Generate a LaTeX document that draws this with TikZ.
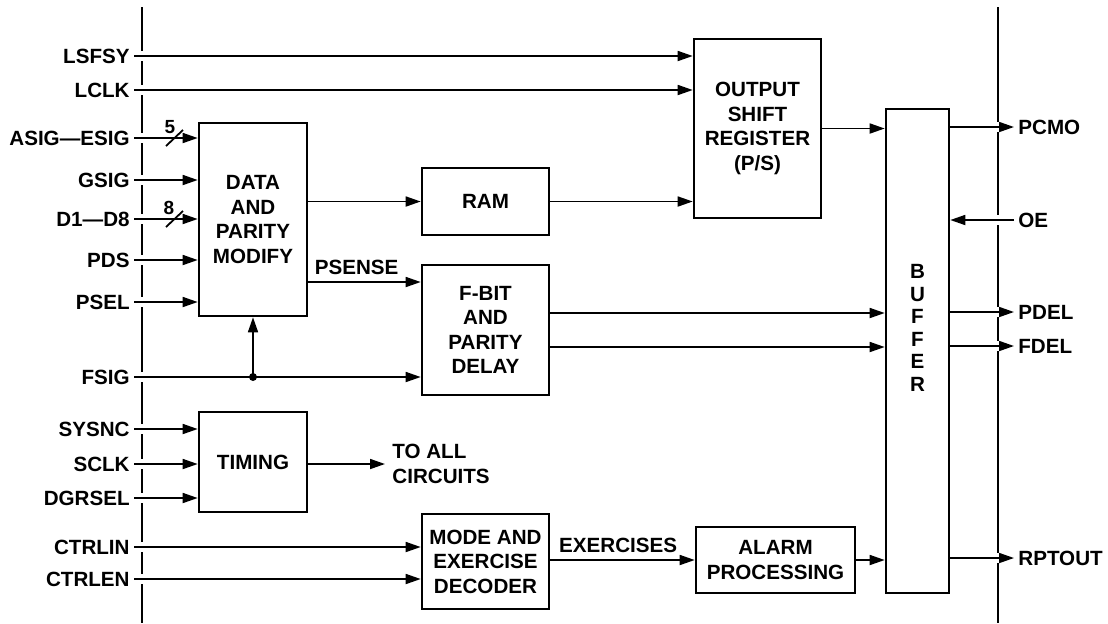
\documentclass[tikz,border=0pt]{standalone}
\usepackage{fontspec}
\setmainfont{Liberation Sans}
\usetikzlibrary{arrows.meta, positioning, calc}
\tikzstyle{block} = [rectangle, draw=black, line width=1.3pt, inner sep=0pt, align=center, font=\fontsize{10.3}{12.2}\selectfont\bfseries]
\tikzstyle{arrow} = [line width=0.85pt, -{Triangle[length=7.5pt,width=5pt]}]
\tikzstyle{wire} = [line width=0.9pt]
\tikzstyle{pin} = [inner sep=2pt, text height=7.3pt, text depth=0pt, font=\fontsize{10.3}{12}\selectfont\bfseries]
\tikzstyle{buswidth} = [inner sep=0pt, font=\fontsize{9.5}{10}\selectfont\bfseries]

\begin{document}
\begin{tikzpicture}[x=0.5pt, y=-0.5pt]
  \useasboundingbox (0,0) rectangle (1108,623);

  % package boundaries
  \draw[line width=1.2pt] (142,7) -- (142,623);
  \draw[line width=1.2pt] (998,7) -- (998,623);
  \foreach \y in {56,90,138,180,219,260,302,377,429,464,498,547,579}
    \fill[white] (138,\y-5) rectangle (146,\y+5);
  \foreach \y in {127,220,312,346,558}
    \fill[white] (994,\y-5) rectangle (1002,\y+5);

  % blocks
  \node[block, minimum width=54pt, minimum height=96.5pt] (dpm) at (253,219.5) {DATA\\AND\\PARITY\\MODIFY};
  \node[block, minimum width=54pt, minimum height=50pt] (timing) at (253,462) {TIMING};
  \node[block, minimum width=63.5pt, minimum height=33.5pt] (ram) at (485.5,201.5) {RAM};
  \node[block, minimum width=63.5pt, minimum height=65pt] (fbit) at (485.5,330) {F-BIT\\AND\\PARITY\\DELAY};
  \node[block, minimum width=63.5pt, minimum height=47.5pt] (mode) at (485.5,561.5) {MODE AND\\EXERCISE\\DECODER};
  \node[block, minimum width=63.5pt, minimum height=89.5pt] (osr) at (757.5,128.5) {OUTPUT\\SHIFT\\REGISTER\\(P/S)};
  \node[block, minimum width=79.5pt, minimum height=33pt] (alarm) at (775.5,560) {ALARM\\PROCESSING};
  \node[block, minimum width=31.5pt, minimum height=242pt] (buffer) at (917.5,351) {};
  \node[align=center, inner sep=0pt, font=\fontsize{10.3}{11.3}\selectfont\bfseries] (buftext) at (917.5,328) {B\\U\\F\\F\\E\\R};

  % input pins
  \node[pin, anchor=east] (lsfsy) at (134,56) {LSFSY};
  \node[pin, anchor=east] (lclk) at (134,90) {LCLK};
  \node[pin, anchor=east] (asig) at (134,138) {ASIG—ESIG};
  \node[pin, anchor=east] (gsig) at (134,180) {GSIG};
  \node[pin, anchor=east] (dsig) at (134,219) {D1—D8};
  \node[pin, anchor=east] (pds) at (134,260) {PDS};
  \node[pin, anchor=east] (psel) at (134,302) {PSEL};
  \node[pin, anchor=east] (fsig) at (134,377) {FSIG};
  \node[pin, anchor=east] (sysnc) at (134,429) {SYSNC};
  \node[pin, anchor=east] (sclk) at (134,464) {SCLK};
  \node[pin, anchor=east] (dgrsel) at (134,498) {DGRSEL};
  \node[pin, anchor=east] (ctrlin) at (134,547) {CTRLIN};
  \node[pin, anchor=east] (ctrlen) at (134,579) {CTRLEN};

  % output pins
  \node[pin, anchor=west] (pcmo) at (1014,127) {PCMO};
  \node[pin, anchor=west] (oe) at (1014,220) {OE};
  \node[pin, anchor=west] (pdel) at (1014,312) {PDEL};
  \node[pin, anchor=west] (fdel) at (1014,346) {FDEL};
  \node[pin, anchor=west] (rptout) at (1014,558) {RPTOUT};

  \node[anchor=west, inner sep=3.5pt, align=left, font=\fontsize{10.3}{12.5}\selectfont\bfseries] (toall) at (385,464) {TO ALL\\CIRCUITS};

  % inputs
  \draw[arrow] (lsfsy.east) -- (lsfsy.east -| osr.west);
  \draw[arrow] (lclk.east) -- (lclk.east -| osr.west);
  \draw[arrow] (asig.east) -- (asig.east -| dpm.west);
  \draw[arrow] (gsig.east) -- (gsig.east -| dpm.west);
  \draw[arrow] (dsig.east) -- (dsig.east -| dpm.west);
  \draw[arrow] (pds.east) -- (pds.east -| dpm.west);
  \draw[arrow] (psel.east) -- (psel.east -| dpm.west);
  \draw[arrow] (sysnc.east) -- (sysnc.east -| timing.west);
  \draw[arrow] (sclk.east) -- (sclk.east -| timing.west);
  \draw[arrow] (dgrsel.east) -- (dgrsel.east -| timing.west);
  \draw[arrow] (ctrlin.east) -- (ctrlin.east -| mode.west);
  \draw[arrow] (ctrlen.east) -- (ctrlen.east -| mode.west);

  % bus widths
  \draw[wire] (166,146) -- (183,130);
  \node[buswidth] (nfive) at (170,127) {5};
  \draw[wire] (166,227) -- (183,211);
  \node[buswidth] (neight) at (169,208) {8};

  % FSIG branch
  \coordinate (fj) at (dpm.south |- fsig.east);
  \draw[arrow] (fsig.east) -- (fsig.east -| fbit.west);
  \draw[arrow] (fj) -- (dpm.south);
  \fill (fj) circle (2pt);

  % internal paths
  \draw[arrow] (dpm.east |- ram.west) -- (ram.west);
  \coordinate (psl) at (307,282);
  \draw[arrow] (dpm.east |- psl) -- node[above, pos=0.43, text depth=0pt, font=\fontsize{10.3}{12}\selectfont\bfseries] {PSENSE} (fbit.west |- psl);
  \draw[arrow] (ram.east) -- (ram.east -| osr.west);
  \draw[arrow] (osr.east) -- (osr.east -| buffer.west);
  \draw[arrow] ([yshift=8.5pt]fbit.east) -- ([yshift=8.5pt]fbit.east -| buffer.west);
  \draw[arrow] ([yshift=-8.5pt]fbit.east) -- ([yshift=-8.5pt]fbit.east -| buffer.west);
  \draw[arrow] (timing.east |- toall.west) -- (toall.west);
  \draw[arrow] (mode.east |- alarm.west) -- node[above, pos=0.47, text depth=0pt, font=\fontsize{10.3}{12}\selectfont\bfseries] {EXERCISES} (alarm.west);
  \draw[arrow] (alarm.east) -- (alarm.east -| buffer.west);

  % outputs
  \draw[arrow] (buffer.east |- pcmo.west) -- (pcmo.west);
  \draw[arrow] (oe.west) -- (oe.west -| buffer.east);
  \draw[arrow] (buffer.east |- pdel.west) -- (pdel.west);
  \draw[arrow] (buffer.east |- fdel.west) -- (fdel.west);
  \draw[arrow] (buffer.east |- rptout.west) -- (rptout.west);
\end{tikzpicture}
\end{document}
